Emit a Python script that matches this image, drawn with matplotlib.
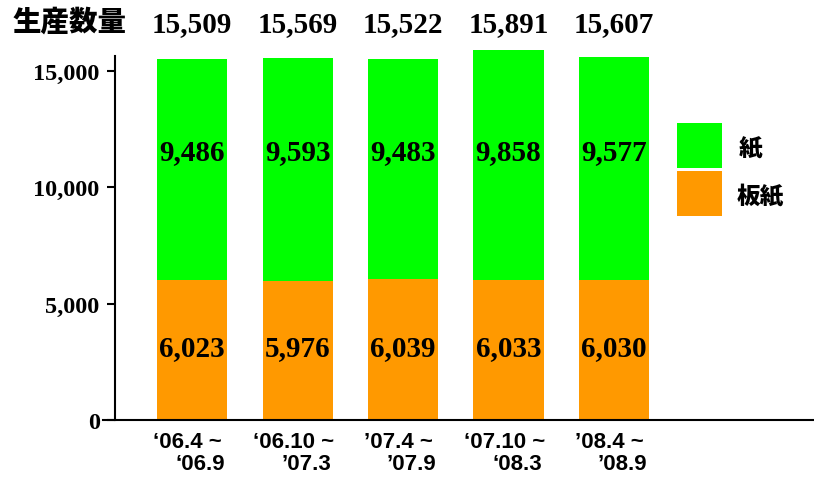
import matplotlib

matplotlib.use("Agg")
import matplotlib.pyplot as plt
import matplotlib.transforms as mtransforms
import numpy as np
from matplotlib.patches import Rectangle


# data
periods_start = ["\u201806.4 ~", "\u201806.10 ~", "\u201907.4 ~", "\u201807.10 ~", "\u201908.4 ~"]
periods_end = ["\u201806.9", "\u201907.3", "\u201907.9", "\u201808.3", "\u201908.9"]
paperboard = [6023, 5976, 6039, 6033, 6030]
paper = [9486, 9593, 9483, 9858, 9577]
totals = [15509, 15569, 15522, 15891, 15607]
yticks = [0, 5000, 10000, 15000]
legend_labels = ["紙", "板紙"]

GREEN = "#00ff00"
ORANGE = "#ff9900"
SERIF = "Liberation Serif"
SANS = "Liberation Sans"
CJK = "Noto Sans CJK JP"

W, H = 814, 481


def fy(px):
    # pixel row (from the top) -> figure fraction
    return 1 - px / H


fig = plt.figure(figsize=(W / 100, H / 100), dpi=100)
ax = fig.add_axes([103 / W, fy(421), 1 - 103 / W, fy(57) - fy(421)])

x = np.arange(len(paper))
ax.bar(x, paperboard, width=0.664, color=ORANGE, clip_on=False)
ax.bar(x, paper, width=0.664, bottom=paperboard, color=GREEN, clip_on=False)

ax.set_xlim(-0.844, 5.896)
ax.set_ylim(0, 15640)

for side in ("top", "right"):
    ax.spines[side].set_visible(False)
ax.spines["left"].set_position(("data", -0.73))
ax.spines["left"].set_linewidth(1.5)
ax.spines["bottom"].set_linewidth(1.5)
ax.spines["bottom"].set_zorder(3)

ax.set_xticks([])
ax.set_yticks(yticks)
ax.set_yticklabels([f"{v:,}" for v in yticks], fontfamily=SERIF, fontweight="bold", fontsize=17.5)
ax.tick_params(axis="y", length=6, width=1.5, pad=5)

# segment values
for i in x:
    ax.text(i, 11517, f"{paper[i]:,}", ha="center", va="center",
            fontfamily=SERIF, fontweight="bold", fontsize=21)
    ax.text(i, 3094, f"{paperboard[i]:,}", ha="center", va="center",
            fontfamily=SERIF, fontweight="bold", fontsize=21)

# totals and period labels, x in data, y in figure
blend = mtransforms.blended_transform_factory(ax.transData, fig.transFigure)
for i in x:
    ax.text(i, fy(25), f"{totals[i]:,}", transform=blend, ha="center", va="center",
            fontfamily=SERIF, fontweight="bold", fontsize=21, clip_on=False)
    ax.text(i - 0.04, fy(443), periods_start[i], transform=blend, ha="center", va="center",
            fontfamily=SANS, fontweight="bold", fontsize=16, clip_on=False)
    ax.text(i + 0.08, fy(465), periods_end[i], transform=blend, ha="center", va="center",
            fontfamily=SANS, fontweight="bold", fontsize=16, clip_on=False)

fig.text(13 / W, fy(22), "生産数量", ha="left", va="center",
         fontfamily=CJK, fontweight="black", fontsize=20.5)

# legend: two colour squares with labels on the right
for k, (color, label, cx) in enumerate(zip([GREEN, ORANGE], legend_labels, [751, 760])):
    top = 124 + 48 * k
    fig.add_artist(Rectangle((677 / W, fy(top + 45)), 45 / W, 45 / H,
                             transform=fig.transFigure, facecolor=color, edgecolor="none"))
    fig.text(cx / W, fy(top + 25), label, ha="center", va="center",
             fontfamily=CJK, fontweight="black", fontsize=17)

fig.savefig("out.png", dpi=100)
